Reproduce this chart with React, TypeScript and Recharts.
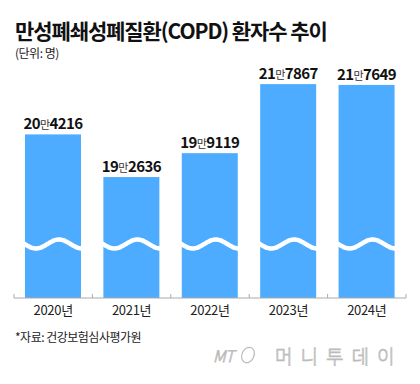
import { Bar, BarChart, LabelList, XAxis, YAxis } from 'recharts'

const years = ['2020년', '2021년', '2022년', '2023년', '2024년']
const patients = [204216, 192636, 199119, 217867, 217649]

const data = years.map((year, i) => ({ year, patients: patients[i] }))

const FONT = '"Noto Sans CJK KR", "Noto Sans", sans-serif'
const BAND = (420 - 14 - 14) / years.length

function WavyBar(props: any) {
  const { x, y, width, height, fill } = props
  const bottom = y + height
  const cy = bottom - 54
  const x0 = x - 3
  const x1 = x + width + 3
  let d = ''
  for (let px = x0; px <= x1; px += 1) {
    const py = cy - 4.5 * Math.cos((2 * Math.PI * (px - (x + 34))) / 46)
    d += (px === x0 ? 'M' : 'L') + px.toFixed(1) + ',' + py.toFixed(1)
  }
  return (
    <g>
      <rect x={x} y={y} width={width} height={height} fill={fill} />
      <path d={d} stroke="#fff" strokeWidth={4.5} fill="none" />
    </g>
  )
}

function ValueLabel(props: any) {
  const { x, y, width, value } = props
  const man = Math.floor(value / 10000)
  const rest = String(value % 10000).padStart(4, '0')
  return (
    <text x={x + width / 2} y={y - 5} textAnchor="middle" fontFamily={FONT} fill="#111" letterSpacing={-0.6}>
      <tspan fontSize={15} fontWeight={700}>{man}</tspan>
      <tspan fontSize={11} fontWeight={400} fill="#333">만</tspan>
      <tspan fontSize={15} fontWeight={700}>{rest}</tspan>
    </text>
  )
}

function YearTick(props: any) {
  const { x, y, payload, index } = props
  return (
    <g>
      <line x1={x - BAND / 2} y1={y - 4} x2={x - BAND / 2} y2={y} stroke="#aaa" />
      {index === years.length - 1 && <line x1={x + BAND / 2} y1={y - 4} x2={x + BAND / 2} y2={y} stroke="#aaa" />}
      <text x={x} y={y + 17} textAnchor="middle" fontFamily={FONT} fontSize={13} fill="#222" letterSpacing={-0.3}>
        {payload.value}
      </text>
    </g>
  )
}

export default function App() {
  return (
    <div style={{ position: 'absolute', left: 0, top: 0, width: 420, height: 384, background: '#fff', fontFamily: FONT }}>
      <div style={{ position: 'absolute', left: 15, top: 17, fontSize: 21, fontWeight: 700, color: '#111', letterSpacing: -1.1, lineHeight: '26px', whiteSpace: 'nowrap' }}>
        만성폐쇄성폐질환(COPD) 환자수 추이
      </div>
      <div style={{ position: 'absolute', left: 15, top: 45, fontSize: 12, color: '#222', letterSpacing: -0.5, lineHeight: '16px' }}>
        (단위: 명)
      </div>
      <div style={{ position: 'absolute', left: 0, top: 0 }}>
        <BarChart width={420} height={330} data={data} margin={{ top: 70, right: 14, bottom: 2, left: 14 }} barCategoryGap="14%">
          <XAxis dataKey="year" height={30} axisLine={{ stroke: '#aaa' }} tickLine={false} tickSize={0} tickMargin={0} tick={<YearTick />} interval={0} />
          <YAxis hide domain={[159800, 221700]} allowDataOverflow />
          <Bar dataKey="patients" fill="#4dacff" shape={<WavyBar />} isAnimationActive={false}>
            <LabelList dataKey="patients" content={<ValueLabel />} />
          </Bar>
        </BarChart>
      </div>
      <div style={{ position: 'absolute', left: 15, top: 329, fontSize: 12, color: '#222', letterSpacing: -0.5, lineHeight: '16px' }}>
        *자료: 건강보험심사평가원
      </div>
      <svg style={{ position: 'absolute', left: 0, top: 0 }} width={420} height={384}>
        <text x={213} y={362} fontFamily={FONT} fontStyle="italic" fontSize={16} fontWeight={300} fill="#fff" stroke="#bbb" strokeWidth={0.8} letterSpacing={-0.5}>
          MT
        </text>
        <ellipse cx={248} cy={355} rx={6} ry={8} transform="rotate(25 248 355)" fill="none" stroke="#bbb" strokeWidth={1.2} />
        <text x={275} y={364} fontFamily={FONT} fontSize={19} fontWeight={300} fill="#fff" stroke="#bbb" strokeWidth={0.8} letterSpacing={8}>
          머니투데이
        </text>
      </svg>
    </div>
  )
}
